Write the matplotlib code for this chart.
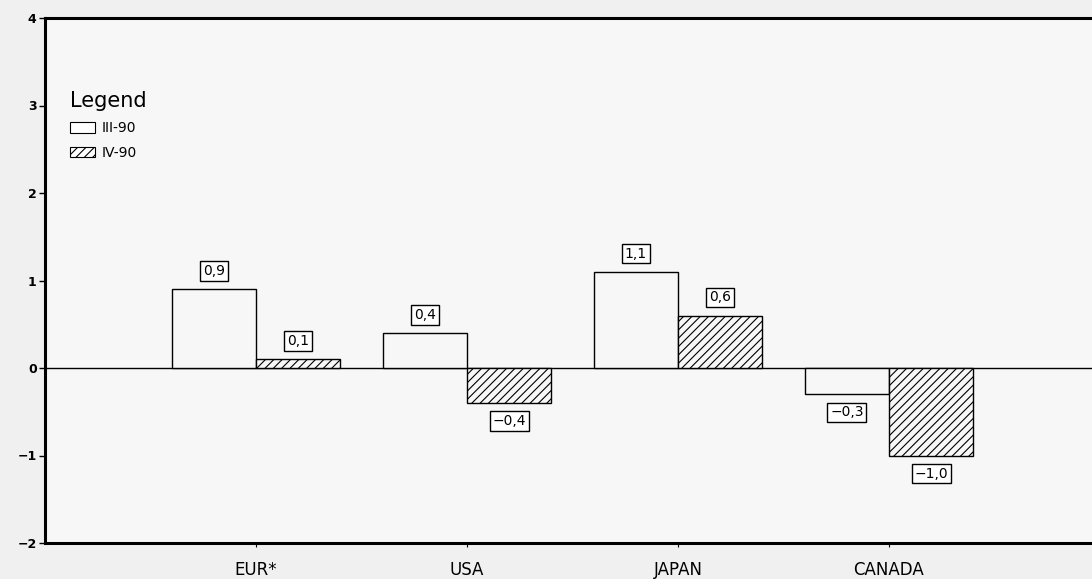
import numpy as np
import matplotlib.pyplot as plt
from matplotlib.patches import Patch

categories = ['EUR*', 'USA', 'JAPAN', 'CANADA']
series_names = ['III-90', 'IV-90']
q3_values = [0.9, 0.4, 1.1, -0.3]
q4_values = [0.1, -0.4, 0.6, -1.0]
y_ticks = [-2, -1, 0, 1, 2, 3, 4]


def fmt_comma(v):
    return f"{v:.1f}".replace('.', ',').replace('-', '\u2212')


fig = plt.figure(figsize=(10.92, 5.79), dpi=100, facecolor='#f0f0f0')
ax = fig.add_axes([45 / 1092, 36 / 579, 1055 / 1092, 525 / 579])
ax.set_facecolor('#f7f7f7')

x = np.arange(len(categories))
w = 0.4
plt.rcParams['hatch.linewidth'] = 0.8
bars3 = ax.bar(x - w / 2, q3_values, w, facecolor='#f7f7f7', edgecolor='black', linewidth=1.0)
bars4 = ax.bar(x + w / 2, q4_values, w, facecolor='#f7f7f7', edgecolor='black', linewidth=1.0, hatch='////')

# boxed value labels above positive bars, below negative ones
for bars, vals in ((bars3, q3_values), (bars4, q4_values)):
    for b, v in zip(bars, vals):
        cx = b.get_x() + b.get_width() / 2
        off = 13 if v >= 0 else -13
        ax.annotate(fmt_comma(v), (cx, v), xytext=(0, off), textcoords='offset points',
                    ha='center', va='center', fontsize=10, family='DejaVu Sans',
                    bbox=dict(boxstyle='square,pad=0.2', facecolor='white', edgecolor='black', linewidth=1.0))

ax.axhline(0, color='black', linewidth=1.0, zorder=0.5)

ax.set_xlim(-1, 4)
ax.set_ylim(-2, 4)
ax.set_yticks(y_ticks)
ax.set_yticklabels([str(t).replace('-', '\u2212') for t in y_ticks], fontsize=9, fontweight='bold')
ax.set_xticks(x)
ax.set_xticklabels(categories, fontsize=12)
ax.tick_params(axis='y', length=4, width=1, pad=2)
ax.tick_params(axis='x', length=3, width=0.8, pad=10)

for side in ('left', 'top', 'bottom'):
    ax.spines[side].set_linewidth(2.2)
ax.spines['right'].set_visible(False)

handles = [Patch(facecolor='white', edgecolor='black', linewidth=0.8),
           Patch(facecolor='white', edgecolor='black', linewidth=0.8, hatch='////')]
leg = ax.legend(handles, series_names, title='Legend', loc='upper left',
                bbox_to_anchor=(0.012, 0.885), frameon=False, fontsize=10,
                title_fontsize=15, handlelength=1.8, handleheight=0.8,
                handletextpad=0.5, labelspacing=0.75)
leg._legend_box.align = 'left'

fig.savefig('out.png', dpi=100, facecolor=fig.get_facecolor())
